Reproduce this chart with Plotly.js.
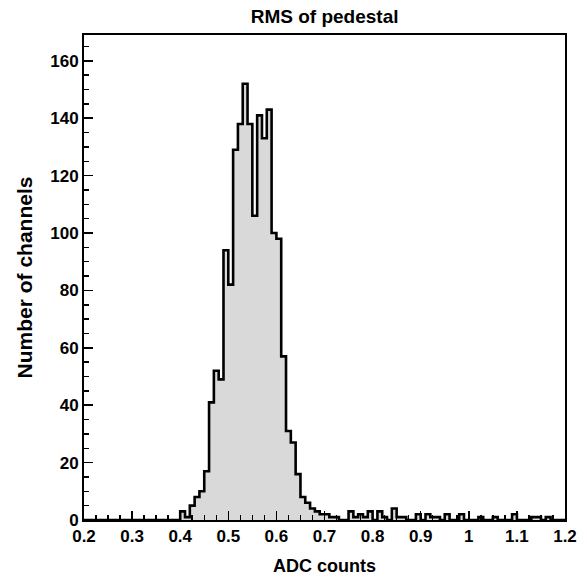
<!DOCTYPE html>
<html>
<head>
<meta charset="utf-8">
<script src="https://cdn.plot.ly/plotly-3.0.1.min.js"></script>
<style>html,body{margin:0;padding:0;background:#fff;}#chart{width:587px;height:577px;}</style>
</head>
<body>
<div id="chart"></div>
<script>
// Bin lower edges (bin width 0.01) and channel counts per bin
const binEdges = [0.20,0.21,0.22,0.23,0.24,0.25,0.26,0.27,0.28,0.29,
  0.30,0.31,0.32,0.33,0.34,0.35,0.36,0.37,0.38,0.39,
  0.40,0.41,0.42,0.43,0.44,0.45,0.46,0.47,0.48,0.49,
  0.50,0.51,0.52,0.53,0.54,0.55,0.56,0.57,0.58,0.59,
  0.60,0.61,0.62,0.63,0.64,0.65,0.66,0.67,0.68,0.69,
  0.70,0.71,0.72,0.73,0.74,0.75,0.76,0.77,0.78,0.79,
  0.80,0.81,0.82,0.83,0.84,0.85,0.86,0.87,0.88,0.89,
  0.90,0.91,0.92,0.93,0.94,0.95,0.96,0.97,0.98,0.99,
  1.00,1.01,1.02,1.03,1.04,1.05,1.06,1.07,1.08,1.09,
  1.10,1.11,1.12,1.13,1.14,1.15,1.16,1.17,1.18,1.19,1.20];
const counts = [0,0,0,0,0,0,0,0,0,0,
  0,0,0,0,0,0,0,0,0,0,
  3,1,5,8,10,17,41,52,49,94,
  82,129,138,152,138,106,141,133,143,100,
  98,57,31,27,16,8,6,4,3,2,
  2,1,1,0,0,3,1,2,1,3,
  0,3,1,0,4,1,1,0,0,2,
  0,2,1,1,0,2,0,0,2,0,
  0,0,1,0,0,1,0,0,0,2,
  0,0,0,1,1,0,1,0,0,0,0];

const title = "RMS of pedestal";
const xTitle = "ADC counts";
const yTitle = "Number of channels";

const boldFont = {family: "Liberation Sans, Arial, sans-serif", color: "#000", weight: "bold"};

const trace = {
  type: "scatter",
  mode: "lines",
  x: binEdges,
  y: counts,
  line: {shape: "hv", color: "#000", width: 2.6},
  fill: "tozeroy",
  fillcolor: "#d9d9d9",
  hoverinfo: "skip"
};

const layout = {
  width: 587, height: 577,
  margin: {l: 84, r: 22, t: 35, b: 57},
  paper_bgcolor: "#fff", plot_bgcolor: "#fff",
  showlegend: false,
  title: {text: title, font: Object.assign({size: 19}, boldFont), x: 0.553, xanchor: "center", y: 0.972, yanchor: "middle"},
  xaxis: {
    range: [0.2, 1.2], dtick: 0.1, tick0: 0.2,
    showgrid: false, zeroline: false,
    showline: true, linecolor: "#000", linewidth: 2, mirror: true,
    ticks: "inside", ticklen: 9, tickwidth: 1.5, tickcolor: "#000",
    minor: {dtick: 0.025, ticks: "inside", ticklen: 5, tickwidth: 1.5, tickcolor: "#000", showgrid: false},
    tickfont: Object.assign({size: 17}, boldFont),
    title: {text: xTitle, font: Object.assign({size: 18}, boldFont), standoff: 14}
  },
  yaxis: {
    range: [0, 169], dtick: 20, tick0: 0,
    showgrid: false, zeroline: false,
    showline: true, linecolor: "#000", linewidth: 2, mirror: true,
    ticks: "inside", ticklen: 9, tickwidth: 1.5, tickcolor: "#000",
    minor: {dtick: 5, ticks: "inside", ticklen: 5, tickwidth: 1.5, tickcolor: "#000", showgrid: false},
    tickfont: Object.assign({size: 17}, boldFont),
    title: {text: yTitle, font: Object.assign({size: 21}, boldFont), standoff: 12}
  }
};

Plotly.newPlot("chart", [trace], layout, {staticPlot: true, displayModeBar: false});
</script>
</body>
</html>
